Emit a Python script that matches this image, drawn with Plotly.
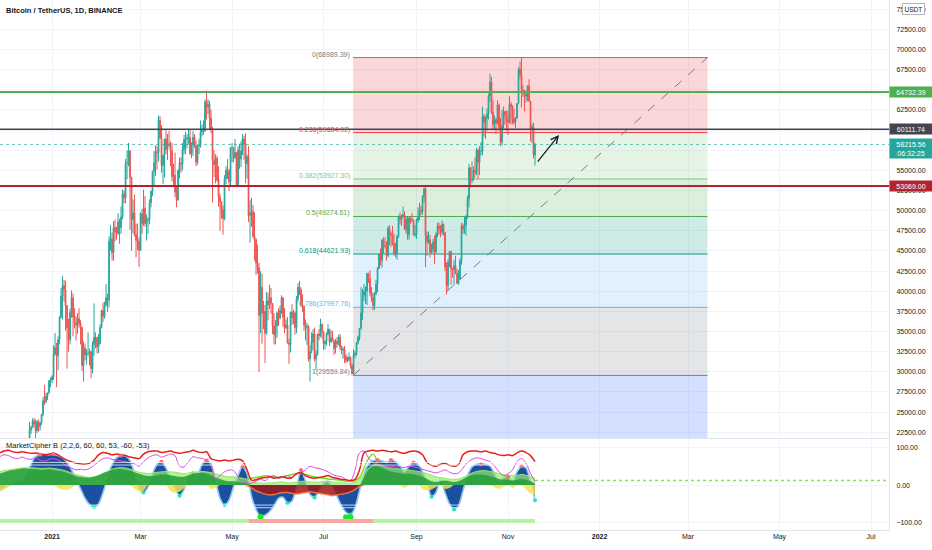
import numpy as np
import pandas as pd
import plotly.graph_objects as go
from plotly.subplots import make_subplots

# ---- daily BTC/USDT candles, thousands of USDT, 2020-12-10 .. 2021-11-19 ----
close_k = [
    # Dec 10-31
    18.2, 18.0, 18.8, 19.2, 19.3, 19.4, 21.3, 22.8, 23.1, 23.9, 23.5, 22.7, 23.8, 23.2, 23.7, 24.7, 26.4, 26.3, 27.0, 27.4, 28.9, 29.0,
    # Jan
    29.4, 32.2, 33.0, 32.0, 34.0, 36.8, 39.4, 40.7, 40.2, 38.2, 35.5, 34.0, 37.4, 39.2, 36.8, 36.0, 35.8, 36.6, 36.0, 35.5,
    30.8, 33.0, 32.1, 32.3, 32.3, 32.5, 30.4, 33.4, 34.3, 34.3, 33.1,
    # Feb
    33.5, 35.5, 37.6, 36.9, 38.3, 39.2, 38.9, 46.2, 46.5, 44.8, 47.9, 47.4, 47.2, 48.6, 47.9, 49.2, 52.1, 51.6, 55.9, 55.9,
    57.4, 54.1, 48.9, 49.7, 47.0, 46.3, 46.2, 45.1,
    # Mar
    49.6, 48.4, 50.3, 48.4, 48.8, 48.9, 51.0, 52.4, 54.9, 55.9, 57.3, 57.2, 61.2, 59.0, 55.6, 56.9, 58.9, 57.6, 58.3, 58.1,
    57.4, 54.2, 54.4, 52.3, 51.3, 55.0, 55.9, 55.8, 57.6, 58.8, 58.9,
    # Apr
    59.0, 59.1, 57.1, 58.2, 59.1, 58.0, 56.0, 58.1, 58.1, 59.8, 60.0, 59.9, 63.5, 62.9, 63.2, 61.5, 60.1, 56.2, 55.7, 56.5,
    53.8, 51.7, 51.1, 50.1, 49.0, 54.0, 55.0, 54.9, 53.6, 57.8,
    # May
    57.8, 56.6, 57.2, 53.2, 57.5, 56.4, 57.4, 58.9, 58.2, 55.8, 56.7, 49.4, 49.7, 49.9, 46.8, 46.4, 43.5, 42.9, 37.0, 40.5,
    37.3, 37.5, 34.8, 38.8, 38.3, 39.2, 38.5, 35.7, 34.6, 35.7, 37.3,
    # Jun
    36.7, 37.6, 39.2, 36.8, 35.5, 35.8, 33.6, 33.4, 37.4, 36.7, 37.3, 35.5, 39.1, 40.5, 40.2, 38.3, 38.1, 35.8, 35.5, 35.6,
    31.6, 32.5, 33.7, 34.7, 31.6, 32.2, 34.7, 34.5, 35.9, 35.0,
    # Jul
    33.5, 33.8, 34.7, 35.3, 33.7, 34.2, 33.9, 32.9, 33.8, 33.5, 34.3, 33.1, 32.7, 32.8, 31.9, 31.4, 31.5, 31.8, 30.8, 29.8,
    32.1, 32.3, 33.6, 34.3, 35.4, 37.3, 39.5, 40.0, 40.0, 42.2, 41.5,
    # Aug
    39.8, 39.2, 38.2, 39.7, 40.9, 42.8, 44.6, 43.8, 46.3, 45.6, 45.6, 44.4, 47.8, 47.1, 47.0, 45.9, 44.7, 44.7, 46.8, 49.3,
    48.9, 49.3, 49.5, 47.7, 48.9, 47.0, 49.1, 48.9, 48.8, 47.0, 47.1,
    # Sep
    48.8, 49.3, 50.0, 49.9, 51.8, 52.7, 46.9, 46.1, 46.4, 44.8, 45.2, 46.1, 44.9, 47.1, 48.1, 47.8, 47.3, 48.3, 47.3, 43.0,
    40.7, 43.6, 44.9, 42.8, 42.7, 43.2, 42.2, 41.0, 41.5, 43.8,
    # Oct
    48.1, 47.7, 48.2, 49.2, 51.5, 55.3, 53.8, 53.9, 55.0, 54.7, 57.5, 56.0, 57.4, 57.4, 61.7, 60.9, 61.5, 62.0, 64.3, 66.0,
    62.2, 60.7, 61.3, 60.9, 63.1, 60.3, 58.5, 60.6, 62.3, 61.9, 61.3,
    # Nov 1-19
    61.0, 63.2, 62.9, 61.4, 61.0, 61.5, 63.3, 67.5, 66.9, 64.9, 64.8, 64.2, 64.4, 65.5, 63.6, 60.1, 60.4, 56.9, 58.21556,
]
high_k = [
    18.6, 18.3, 18.9, 19.4, 19.6, 19.6, 21.5, 23.8, 23.3, 24.2, 24.3, 24.1, 24.0, 24.1, 23.8, 24.8, 26.9, 28.4, 27.4, 27.4, 29.0, 29.3,
    29.6, 33.3, 34.8, 33.6, 34.4, 36.9, 40.4, 41.9, 41.4, 41.3, 38.3, 36.6, 37.8, 40.1, 39.7, 37.9, 36.9, 37.3, 37.9, 36.4,
    35.6, 33.8, 33.5, 32.8, 34.9, 32.9, 32.6, 33.8, 38.5, 34.9, 34.3,
    34.7, 35.9, 37.7, 38.6, 38.7, 40.9, 39.7, 46.8, 48.2, 47.3, 48.7, 48.9, 48.0, 49.7, 49.0, 50.5, 52.6, 52.5, 56.4, 57.5,
    58.4, 57.5, 54.2, 51.4, 52.0, 48.4, 48.4, 46.7,
    49.8, 50.2, 52.6, 51.8, 49.5, 49.2, 51.4, 52.5, 54.9, 57.4, 58.1, 58.0, 61.8, 61.7, 60.6, 56.9, 58.9, 60.0, 59.5, 59.9,
    58.6, 58.4, 55.8, 57.2, 53.0, 55.1, 56.6, 56.6, 58.4, 59.4, 59.8,
    59.5, 60.1, 60.0, 58.5, 59.9, 59.5, 58.7, 58.2, 58.9, 61.2, 60.7, 61.2, 63.8, 64.9, 63.8, 63.6, 62.5, 60.4, 57.5, 57.0,
    56.8, 55.5, 52.1, 51.2, 50.6, 54.4, 55.5, 56.4, 55.2, 57.9,
    58.4, 57.9, 58.9, 57.2, 58.0, 58.3, 58.6, 59.5, 59.3, 59.6, 57.0, 58.0, 51.3, 51.6, 50.7, 49.8, 46.6, 45.8, 43.5, 42.5,
    42.2, 38.8, 38.3, 39.9, 39.8, 40.8, 40.4, 38.2, 37.3, 36.4, 37.5,
    37.9, 38.2, 39.5, 39.3, 37.9, 36.5, 36.8, 34.1, 37.5, 38.4, 37.7, 37.5, 39.4, 41.0, 41.3, 40.5, 39.6, 38.2, 36.5, 36.1,
    35.8, 33.3, 34.9, 35.3, 35.5, 32.7, 34.7, 35.3, 36.6, 36.0,
    35.0, 33.9, 34.9, 35.9, 35.3, 35.1, 35.1, 33.9, 34.1, 34.3, 34.6, 34.7, 33.3, 33.1, 33.2, 32.2, 31.9, 32.4, 31.9, 31.0,
    32.8, 32.6, 33.7, 34.5, 35.4, 40.5, 40.3, 40.9, 40.6, 42.3, 42.3,
    42.6, 40.5, 39.8, 39.9, 41.4, 43.0, 44.7, 45.3, 46.5, 46.7, 46.7, 46.2, 48.1, 48.2, 47.4, 48.1, 47.2, 46.0, 47.0, 49.4,
    49.8, 49.5, 50.5, 49.9, 49.2, 49.3, 49.2, 49.3, 49.7, 48.9, 48.2,
    49.0, 50.4, 51.0, 50.6, 51.9, 52.9, 52.9, 47.4, 47.4, 47.0, 45.9, 46.5, 46.9, 47.3, 48.5, 48.5, 48.2, 48.8, 48.4, 47.3,
    43.6, 44.0, 45.0, 45.0, 42.9, 43.9, 44.4, 42.8, 42.6, 44.1,
    48.5, 48.4, 49.3, 49.5, 51.9, 55.8, 55.4, 56.1, 55.5, 56.6, 57.8, 57.7, 58.0, 58.5, 62.9, 62.0, 61.7, 62.7, 64.5, 67.0,
    66.6, 63.7, 61.8, 61.5, 63.7, 63.3, 61.5, 62.5, 62.9, 62.4, 62.4,
    62.4, 64.2, 63.5, 63.1, 62.6, 61.6, 63.3, 67.8, 68.5, 68.99, 65.6, 65.0, 64.9, 65.5, 66.3, 63.6, 60.8, 60.9, 58.4,
]
low_k = [
    17.9, 17.6, 18.0, 18.7, 19.0, 19.1, 19.3, 21.2, 22.3, 23.0, 23.1, 21.8, 22.4, 22.6, 22.7, 23.4, 24.5, 25.9, 26.1, 26.5, 27.3, 28.1,
    28.6, 29.0, 32.0, 28.1, 30.2, 33.4, 36.6, 36.5, 38.7, 35.1, 30.4, 32.5, 33.4, 36.7, 34.4, 35.4, 33.9, 34.7, 35.5, 33.4,
    30.1, 28.8, 31.4, 30.9, 31.9, 30.8, 29.2, 29.8, 32.0, 32.9, 32.3,
    32.3, 33.4, 35.4, 36.2, 36.6, 38.1, 37.4, 38.0, 45.0, 43.8, 43.8, 46.2, 46.4, 47.0, 45.9, 47.1, 48.9, 50.9, 50.9, 53.9,
    55.5, 47.6, 45.0, 47.2, 46.8, 44.2, 45.1, 43.0,
    45.0, 47.1, 48.1, 48.0, 46.3, 47.1, 48.3, 50.4, 51.8, 53.0, 54.3, 55.1, 56.1, 58.9, 54.7, 53.3, 54.1, 57.0, 56.3, 57.9,
    55.5, 53.6, 53.1, 51.7, 50.4, 51.3, 54.0, 54.7, 55.0, 57.0, 57.0,
    57.7, 58.3, 56.9, 56.5, 56.8, 57.8, 55.5, 55.7, 57.0, 57.8, 59.2, 59.4, 59.8, 61.3, 62.0, 60.0, 59.6, 51.0, 54.2, 53.4,
    53.6, 50.5, 47.5, 49.0, 47.0, 48.8, 53.3, 53.9, 52.4, 53.1,
    56.0, 56.0, 56.4, 53.0, 52.9, 55.2, 55.4, 56.9, 56.3, 53.4, 54.0, 48.6, 46.0, 48.0, 46.6, 43.8, 42.0, 42.2, 30.0, 34.8,
    33.5, 35.3, 31.1, 34.6, 36.4, 37.8, 37.2, 34.7, 33.4, 33.4, 34.2,
    35.7, 36.5, 37.2, 35.6, 34.8, 35.3, 33.5, 31.0, 32.4, 35.8, 35.9, 34.6, 34.8, 38.7, 39.5, 38.0, 37.4, 35.1, 33.9, 33.3,
    31.3, 28.8, 32.3, 32.7, 31.3, 30.2, 32.0, 33.9, 34.3, 34.1,
    32.7, 32.8, 33.3, 34.5, 33.2, 33.6, 33.8, 32.1, 32.3, 33.0, 33.3, 32.7, 32.2, 31.6, 31.1, 31.1, 31.2, 31.3, 30.4, 29.56,
    29.7, 31.7, 32.0, 33.4, 33.9, 35.2, 36.4, 38.8, 38.4, 38.3, 41.0,
    39.4, 38.7, 37.6, 37.7, 39.5, 39.9, 42.8, 43.2, 42.9, 44.7, 45.3, 43.8, 44.2, 45.7, 45.5, 45.7, 44.4, 44.2, 43.9, 46.6,
    48.3, 48.1, 49.1, 47.6, 47.2, 46.4, 46.4, 48.4, 48.6, 46.9, 46.7,
    46.5, 48.5, 48.8, 49.4, 49.5, 51.0, 43.0, 44.4, 45.9, 44.2, 44.7, 44.8, 43.4, 44.7, 46.7, 47.0, 46.7, 47.0, 46.9, 42.5,
    39.6, 40.1, 43.0, 40.8, 41.7, 40.8, 42.1, 40.9, 40.8, 41.4,
    43.3, 47.1, 47.1, 46.9, 49.0, 50.4, 53.1, 53.4, 53.7, 54.1, 54.4, 53.9, 54.4, 56.8, 56.9, 59.2, 58.9, 59.9, 61.3, 63.5,
    62.0, 60.0, 60.1, 59.5, 60.7, 59.9, 58.0, 58.1, 60.2, 60.7, 59.9,
    59.4, 60.8, 60.7, 60.7, 60.7, 60.2, 61.4, 63.2, 66.3, 62.8, 64.1, 62.3, 63.4, 63.6, 63.5, 58.6, 58.4, 56.5, 55.6,
]
first_open_k = 18.3

# ---- MarketCipher B readings, one value every 3 days from 2020-11-27 ----
wave = [-15, -8, 0, 5, 10, 15, 30, 55, 75, 80,
        82, 80, 82, 78, 72, 60, 40, 15, -10, -35,
        -52, -58, -50, -20, 20, 55, 72, 78, 77, 65,
        30, -10, -20, -5, 30, 55, 62, 45, 15, -10,
        -28, -12, 20, 35, 25, 55, 65, 55, 10, -35,
        -53, -40, -5, 25, 50, 30, -30, -65, -82, -80,
        -70, -55, -35, -32, -48, -42, -5, 40, 10, -25,
        -33, -15, 5, 10, -5, -30, -55, -72, -78, -60,
        -15, 30, 55, 65, 66, 64, 60, 66, 62, 50,
        35, 50, 60, 55, 35, 5, -31, -20, 15, -20,
        -50, -65, -55, -15, 25, 48, 55, 56, 55, 50,
        30, 10, 20, 22, 10, 35, 50, 45, 10, -40]
rsi_line = [85, 90, 92, 88, 86, 88, 86, 84, 85, 83,
            80, 82, 84, 80, 72, 66, 62, 58, 56, 55,
            58, 66, 80, 86, 84, 80, 82, 80, 78, 74,
            72, 70, 82, 88, 90, 90, 86, 88, 90, 86,
            84, 86, 88, 92, 88, 86, 88, 70, 66, 64,
            66, 64, 66, 68, 64, 40, 13, 14, 18, 20,
            22, 18, 20, 22, 18, 20, 30, 33, 25, 20,
            18, 20, 22, 25, 20, 18, 15, 14, 12, 15,
            40, 85, 90, 92, 90, 92, 90, 88, 90, 86,
            84, 88, 90, 88, 80, 60, 52, 50, 55, 58,
            52, 50, 54, 80, 88, 90, 90, 88, 90, 86,
            84, 80, 78, 80, 78, 85, 90, 86, 78, 62]
stoch_line = [75, 80, 78, 72, 70, 74, 70, 68, 72, 66,
              64, 68, 70, 66, 58, 50, 45, 40, 42, 40,
              44, 52, 62, 70, 72, 68, 66, 64, 62, 58,
              56, 50, 62, 72, 78, 80, 74, 78, 82, 78,
              50, 48, 62, 75, 72, 71, 65, 55, 16, 25,
              35, 40, 38, 22, 9, 6, 5, 10, 15, 12,
              20, 25, 18, 22, 25, 20, 30, 33, 40, 50,
              46, 44, 40, 35, 28, 24, 22, 14, 12, 40,
              85, 90, 72, 60, 55, 52, 50, 50, 48, 48,
              46, 50, 48, 46, 42, 38, 35, 32, 36, 40,
              34, 30, 32, 45, 60, 68, 72, 70, 66, 62,
              50, 35, 25, 30, 40, 62, 70, 58, 30, 10]
rsimfi = [35, 38, 40, 42, 44, 45, 46, 46, 45, 44,
          44, 45, 44, 42, 40, 36, 32, 28, 25, 22,
          20, 22, 25, 30, 36, 42, 45, 46, 45, 42,
          38, 34, 32, 30, 32, 34, 35, 36, 35, 34,
          32, 30, 32, 34, 35, 36, 35, 33, 30, 26,
          24, 22, 22, 20, 18, 15, 8, 6, 5, 5,
          6, 6, 8, 8, 6, 6, 8, 10, 10, 8,
          8, 8, 10, 10, 8, 6, 6, 5, 5, 8,
          15, 30, 45, 52, 55, 52, 48, 45, 44, 42,
          40, 40, 38, 36, 34, 30, 26, 22, 20, 18,
          16, 15, 16, 20, 26, 32, 36, 38, 38, 36,
          34, 30, 28, 26, 25, 26, 28, 26, 22, 18]
money_flow = [30, 34, 38, 40, 42, 44, 44, 42, 42, 40,
              40, 42, 40, 38, 36, 32, 28, 24, 22, 20,
              20, 22, 26, 32, 36, 40, 42, 42, 40, 38,
              34, 30, 26, 24, 24, 26, 28, 28, 26, 24,
              22, 22, 26, 30, 32, 32, 30, 26, 20, 16,
              12, 10, 10, 8, 6, 4, -8, -15, -20, -24,
              -26, -25, -22, -20, -20, -22, -24, -22, -20, -18,
              -20, -22, -24, -26, -28, -26, -24, -22, -18, -12,
              -4, 20, 40, 50, 50, 46, 40, 36, 34, 32,
              30, 30, 28, 26, 22, 16, 10, 8, 10, 12,
              10, 8, 10, 16, 22, 26, 28, 28, 26, 24,
              20, 16, 14, 14, 12, 14, 16, 14, 10, 4]
yellow_wave = [-15, -12, -5, 0, 0, 0, 0, 0, 0, 0,
               0, 0, 0, -8, -12, -12, -8, 0, 0, 0,
               0, 0, 0, 0, 0, 0, 0, 0, 0, 0,
               -10, -18, -15, 0, 0, 0, 0, 0, -15, -20,
               -18, -8, 0, 0, 0, 0, 0, -10, -8, 0,
               0, 0, 0, 0, 0, -5, 0, 0, 0, 0,
               0, 0, 0, 0, 0, 0, 0, -8, -6, 0,
               0, 0, -6, -8, 0, 0, 0, 0, 0, 0,
               -5, 0, 0, 0, 0, 0, 0, 0, 0, 0,
               -8, 0, 0, 0, -10, -15, -12, -5, 0, -10,
               -8, 0, 0, 0, 0, 0, 0, 0, 0, 0,
               -6, -10, -5, 0, -8, 0, 0, -12, -22, -25]
lime_start = 55
lime_line = [15, 18, 20, 22, 25, 24, 22, 20, 22, 25, 28, 30, 32, 28, 25,
             22, 20, 18, 16, 15, 14, 12, 10, 10, 12, 20, 45, 70, 82, 60]
crest_idx = [9, 12, 27, 36, 46, 54, 67, 84, 87, 92, 107, 113, 116]
trough_idx = [21, 32, 40, 50, 58, 64, 70, 78, 96, 101, 119]
buy_idx = [58, 77, 78]
buy_y = [-84, -85, -85]
regime_dates = ['2020-11-27', '2021-05-12', '2021-08-03', '2021-11-19']
regime_colors = ['#b7f2a6', '#f6a8a2', '#b7f2a6']

# ---- drawings ----
fib_high, fib_low = 68989.39, 29559.84
fib_start, fib_end = '2021-07-20 18:00', '2022-03-14'
fib_names = ['0', '0.236', '0.382', '0.5', '0.618', '0.786', '1']
fib_ratio = [0, 0.236, 0.382, 0.5, 0.618, 0.786, 1]
fib_line_colors = ['#787b86', '#f23645', '#81c784', '#4caf50', '#089981', '#64b5f6', '#787b86']
fib_band_colors = ['rgba(242,54,69,0.2)', 'rgba(129,199,132,0.2)', 'rgba(76,175,80,0.2)',
                   'rgba(8,153,129,0.2)', 'rgba(100,181,246,0.2)', 'rgba(120,123,134,0.2)']
fib_ext_color = 'rgba(41,98,255,0.2)'

level_prices = [64732.39, 60111.74, 53069.00]
level_colors = ['#4caf50', '#434651', '#b2232f']
level_widths = [2, 1.5, 2]
last_price = 58215.56
countdown = '06:32:25'
arrow_from = ('2021-11-20', 55900)
arrow_to = ('2021-12-05', 59400)

tick_dates = ['2021-01-01', '2021-03-01', '2021-05-01', '2021-07-01', '2021-09-01', '2021-11-01',
              '2022-01-01', '2022-03-01', '2022-05-01', '2022-07-01']
tick_text = ['<b>2021</b>', 'Mar', 'May', 'Jul', 'Sep', 'Nov', '<b>2022</b>', 'Mar', 'May', 'Jul']

assert len(close_k) == len(high_k) == len(low_k)

dates = pd.date_range('2020-12-10', periods=len(close_k), freq='D')
close = np.array(close_k) * 1000
opens = np.concatenate([[first_open_k * 1000], close[:-1]])
high = np.maximum(np.array(high_k) * 1000, np.maximum(opens, close))
low = np.minimum(np.array(low_k) * 1000, np.minimum(opens, close))

ind_dates = pd.date_range('2020-11-27', periods=len(wave), freq='3D')
mf = np.array(money_flow)
neg = np.nonzero(mf < 0)[0]
neg_sl = slice(neg[0] - 1, neg[-1] + 2)

x_start = pd.Timestamp('2021-01-01') - pd.Timedelta(days=34.7)
x_end = pd.Timestamp('2021-01-01') + pd.Timedelta(days=558)
y_price = [21793, 76135]
y_ind = [-119, 124.6]

FONT = 'Liberation Sans, Arial, sans-serif'
TXT = '#131722'
GRID = '#f0f3fa'
AXLINE = '#e0e3eb'

fig = make_subplots(rows=2, cols=1, shared_xaxes=True, vertical_spacing=0,
                    row_heights=[0.8264, 0.1736])

fig.add_trace(go.Candlestick(
    x=dates, open=opens, high=high, low=low, close=close,
    increasing=dict(line=dict(color='#26a69a', width=1), fillcolor='#26a69a'),
    decreasing=dict(line=dict(color='#ef5350', width=1), fillcolor='#ef5350'),
    whiskerwidth=0, showlegend=False, hoverinfo='skip'), row=1, col=1)

# indicator pane
fig.add_trace(go.Scatter(x=ind_dates, y=wave, mode='lines', fill='tozeroy', fillcolor='#1c4f9f',
                         line=dict(color='#8fc6f4', width=1.6, shape='spline', smoothing=0.7),
                         hoverinfo='skip'), row=2, col=1)
fig.add_trace(go.Scatter(x=ind_dates, y=yellow_wave, mode='lines', fill='tozeroy',
                         fillcolor='rgba(246,226,84,0.85)', line=dict(width=0, shape='spline'),
                         hoverinfo='skip'), row=2, col=1)
fig.add_trace(go.Scatter(x=ind_dates, y=rsimfi, mode='lines', fill='tozeroy',
                         fillcolor='rgba(150,236,110,0.7)', line=dict(color='#9be36f', width=1, shape='spline'),
                         hoverinfo='skip'), row=2, col=1)
fig.add_trace(go.Scatter(x=ind_dates, y=np.where(mf > 0, mf, 0), mode='lines', fill='tozeroy',
                         fillcolor='rgba(38,158,58,0.88)', line=dict(width=0, shape='spline'),
                         hoverinfo='skip'), row=2, col=1)
fig.add_trace(go.Scatter(x=ind_dates[neg_sl], y=np.minimum(mf, 0)[neg_sl], mode='lines', fill='tozeroy',
                         fillcolor='rgba(160,24,24,0.85)',
                         line=dict(color='rgba(255,120,60,0.9)', width=1.5, shape='spline'),
                         hoverinfo='skip'), row=2, col=1)
fig.add_trace(go.Scatter(x=ind_dates[lime_start:lime_start + len(lime_line)], y=lime_line, mode='lines',
                         line=dict(color='#6fe21a', width=1.4, shape='spline'), hoverinfo='skip'),
              row=2, col=1)
fig.add_trace(go.Scatter(x=ind_dates, y=stoch_line, mode='lines',
                         line=dict(color='#e048e8', width=1, shape='spline'), hoverinfo='skip'),
              row=2, col=1)
fig.add_trace(go.Scatter(x=ind_dates, y=rsi_line, mode='lines',
                         line=dict(color='#e5201b', width=1.5, shape='spline'), hoverinfo='skip'),
              row=2, col=1)
fig.add_trace(go.Scatter(x=ind_dates[crest_idx], y=[wave[i] for i in crest_idx], mode='markers',
                         marker=dict(color='#ff6b6b', size=4), hoverinfo='skip'), row=2, col=1)
fig.add_trace(go.Scatter(x=ind_dates[trough_idx], y=[wave[i] for i in trough_idx], mode='markers',
                         marker=dict(color='#1de9b6', size=4), hoverinfo='skip'), row=2, col=1)
fig.add_trace(go.Scatter(x=ind_dates[buy_idx], y=buy_y, mode='markers',
                         marker=dict(color='#1ee81e', size=6), hoverinfo='skip'), row=2, col=1)
for k in range(len(regime_colors)):
    fig.add_trace(go.Scatter(x=[regime_dates[k], regime_dates[k + 1]], y=[-95, -95], mode='lines',
                             line=dict(color=regime_colors[k], width=4), hoverinfo='skip'),
                  row=2, col=1)

shapes = []
# fib retracement bands + level lines (drawn over the grid, under the candles)
fib_prices = [fib_high - r * (fib_high - fib_low) for r in fib_ratio]
for k in range(len(fib_band_colors)):
    shapes.append(dict(type='rect', xref='x', yref='y', x0=fib_start, x1=fib_end,
                       y0=fib_prices[k + 1], y1=fib_prices[k], fillcolor=fib_band_colors[k],
                       line=dict(width=0), layer='between'))
shapes.append(dict(type='rect', xref='x', yref='y', x0=fib_start, x1=fib_end,
                   y0=y_price[0], y1=fib_low, fillcolor=fib_ext_color, line=dict(width=0), layer='between'))
for p, c in zip(fib_prices, fib_line_colors):
    shapes.append(dict(type='line', xref='x', yref='y', x0=fib_start, x1=fib_end, y0=p, y1=p,
                       line=dict(color=c, width=1), layer='between'))
shapes.append(dict(type='line', xref='x', yref='y', x0=fib_start, x1=fib_end, y0=fib_low, y1=fib_high,
                   line=dict(color='#787b86', width=1, dash='dash')))
# horizontal levels
for p, c, w in zip(level_prices, level_colors, level_widths):
    shapes.append(dict(type='line', xref='x domain', yref='y', x0=0, x1=1, y0=p, y1=p,
                       line=dict(color=c, width=w)))
shapes.append(dict(type='line', xref='x domain', yref='y', x0=0, x1=1, y0=last_price, y1=last_price,
                   line=dict(color='rgba(38,166,154,0.7)', width=1, dash='dot')))
# cipher level lines and forward zero line
for lv in [60, 53, -53, -60]:
    shapes.append(dict(type='line', xref='x2', yref='y2', x0=ind_dates[0], x1=ind_dates[-1], y0=lv, y1=lv,
                       line=dict(color='rgba(255,255,255,0.75)', width=1), layer='above'))
shapes.append(dict(type='line', xref='x2', yref='y2', x0=ind_dates[-1], x1=x_end, y0=12, y1=12,
                   line=dict(color='#7ee84a', width=1.5, dash='dot')))

ann = []
ann.append(dict(text='<b>Bitcoin / TetherUS, 1D, BINANCE</b>', xref='paper', yref='paper', x=0.005, y=0.981,
                xanchor='left', yanchor='middle', showarrow=False, font=dict(size=7.5, color=TXT)))
ann.append(dict(text='MarketCipher B (2,2,6, 60, 60, 53, -60, -53)', xref='paper', yref='y2 domain',
                x=0.004, y=0.913, xanchor='left', yanchor='middle', showarrow=False,
                font=dict(size=7.5, color=TXT)))
for name, p, c in zip(fib_names, fib_prices, fib_line_colors):
    ann.append(dict(text=f'{name}({p:.2f})', xref='x', yref='y', x=fib_start, y=p, xanchor='right',
                    yanchor='middle', xshift=-1, yshift=3, showarrow=False, font=dict(size=7, color=c)))
for p, c in zip(level_prices, level_colors):
    ann.append(dict(text=f'{p:.2f}', xref='paper', yref='y', x=1, y=p, xanchor='left', yanchor='middle',
                    showarrow=False, bgcolor=c, width=39, align='center', borderpad=1.5,
                    font=dict(size=7, color='white')))
ann.append(dict(text=f'{last_price:.2f}<br>{countdown}', xref='paper', yref='y', x=1, y=last_price,
                xanchor='left', yanchor='top', yshift=6, showarrow=False, bgcolor='#26a69a', width=39,
                align='center', borderpad=1.5, font=dict(size=7, color='white')))
ann.append(dict(text='USDT', xref='paper', yref='paper', x=1.0275, y=0.983, xanchor='center', yanchor='middle',
                showarrow=False, bgcolor='white', bordercolor='#b2b5be', borderwidth=1, borderpad=1.5,
                font=dict(size=6.5, color=TXT)))
ann.append(dict(text='', x=arrow_to[0], y=arrow_to[1], ax=arrow_from[0], ay=arrow_from[1],
                xref='x', yref='y', axref='x', ayref='y', showarrow=True, arrowhead=5,
                arrowsize=1.2, arrowwidth=1.2, arrowcolor='#131722'))

fig.update_layout(width=932, height=550, margin=dict(l=0, r=43, t=0, b=20),
                  paper_bgcolor='white', plot_bgcolor='white', showlegend=False,
                  font=dict(family=FONT, size=7, color=TXT), shapes=shapes, annotations=ann)
fig.update_xaxes(range=[x_start, x_end], tickvals=tick_dates, showgrid=True, gridcolor=GRID,
                 zeroline=False, showline=True, linecolor=AXLINE, rangeslider_visible=False, ticks='')
fig.update_xaxes(showticklabels=False, row=1, col=1)
fig.update_xaxes(ticktext=tick_text, showticklabels=True, tickfont=dict(size=7, color=TXT), row=2, col=1)
fig.update_yaxes(side='right', range=y_price, tick0=0, dtick=2500, tickformat='.2f', showgrid=True,
                 gridcolor=GRID, zeroline=False, showline=True, linecolor=AXLINE, ticks='outside',
                 ticklen=5, tickcolor='rgba(0,0,0,0)', tickfont=dict(size=7, color=TXT), row=1, col=1)
fig.update_yaxes(side='right', range=y_ind, tickvals=[-100, 0, 100], tickformat='.2f', showgrid=True,
                 gridcolor=GRID, zeroline=False, showline=True, linecolor=AXLINE, ticks='outside',
                 ticklen=5, tickcolor='rgba(0,0,0,0)', tickfont=dict(size=7, color=TXT), row=2, col=1)

# page body has a default 8px margin; drop it so the figure fills the window
fig.write_html('out.html', config={'displayModeBar': False},
               post_script="document.body.style.margin='0';")
